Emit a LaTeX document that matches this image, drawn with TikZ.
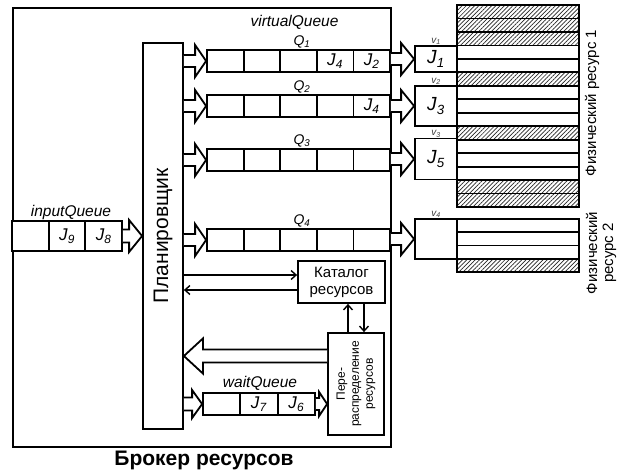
\documentclass[tikz,border=0pt]{standalone}
\usepackage{fontspec}
\setmainfont{Liberation Sans}
\usetikzlibrary{calc,patterns.meta,arrows.meta}
\newcommand\J[1]{\textit{J}\textsubscript{\textit{#1}}}
\newcommand\fatarrow[5]{%
  \draw[fat] let \p1=(#1), \p2=(#2), \n1={sign(\x2-\x1)*#5} in
    (\x1,\y2+#3pt) -- (\x2-\n1*1pt,\y2+#3pt) -- (\x2-\n1*1pt,\y2+#4pt) -- (\x2,\y2)
    -- (\x2-\n1*1pt,\y2-#4pt) -- (\x2-\n1*1pt,\y2-#3pt) -- (\x1,\y2-#3pt);}
\tikzset{
  box/.style={draw, line width=1.8pt, inner sep=0pt, fill=white},
  qcell/.style={box, minimum width=36.6pt, minimum height=22pt, font=\fontsize{17}{17}\selectfont},
  icell/.style={box, minimum width=36.67pt, minimum height=30pt, font=\fontsize{17}{17}\selectfont},
  wcell/.style={box, minimum width=37.33pt, minimum height=22pt, font=\fontsize{17}{17}\selectfont},
  vm/.style={box, minimum width=42pt, font=\fontsize{19}{19}\selectfont},
  prow/.style={draw, line width=1.8pt, inner sep=0pt, minimum width=122pt},
  hatch/.style={pattern={Lines[angle=45,distance=3pt,line width=0.7pt]}, pattern color=black!85},
  fat/.style={line width=1.8pt, fill=white, line join=miter},
  conn/.style={line width=1.4pt, -{Straight Barb[length=5pt,width=9pt,line width=1.4pt]}},
  qlab/.style={font=\fontsize{14}{14}\selectfont},
  ilab/.style={font=\fontsize{15.5}{15.5}\selectfont\itshape},
  vlab/.style={font=\fontsize{10}{10}\selectfont\itshape, text=black!75, inner sep=0.3pt, anchor=south},
  rlab/.style={rotate=90, align=center, font=\fontsize{15}{16}\selectfont},
}
\begin{document}
\begin{tikzpicture}[x=1pt,y=-1pt]
\fill[white] (0,0) rectangle (618,472);
\useasboundingbox (0,0) rectangle (618,472);
% broker frame
\node[draw, line width=1.8pt, inner sep=0pt, minimum width=378pt, minimum height=439pt, anchor=north west] (broker) at (12,7) {};
\node[font=\fontsize{21}{21}\selectfont\bfseries] (brokerlbl) at (204,460) {Брокер ресурсов};
% planner
\node[box, minimum width=40pt, minimum height=386pt] (plan) at (163,236) {};
\node[rotate=90, font=\fontsize{21}{21}\selectfont] (plantxt) at (plan.center) {Планировщик};
% virtual queues
\node[ilab] (vqlbl) at (294.5,22) {virtualQueue};
\foreach \q/\y in {1/61,2/106,3/160,4/240} {
  \node[qlab] (ql\q) at (302,\y-19) {\textit{Q}\textsubscript{\textit{\q}}};
}
\foreach \c/\t in {1/,2/,3/,4/\J{4},5/\J{2}}
  \node[qcell] (q1c\c) at ({207+36.6*(\c-0.5)},61) {\t};
\foreach \c/\t in {1/,2/,3/,4/,5/\J{4}}
  \node[qcell] (q2c\c) at ({207+36.6*(\c-0.5)},106) {\t};
\foreach \c in {1,...,5}
  \node[qcell] (q3c\c) at ({207+36.6*(\c-0.5)},160) {};
\foreach \c in {1,...,5}
  \node[qcell] (q4c\c) at ({207+36.6*(\c-0.5)},240) {};
% physical resource 1
\foreach \r in {4,5,7,8,9,11,12,13}
  \node[prow, minimum height=13.467pt] (pa\r) at (518,{5+13.467*(\r-0.5)}) {};
\foreach \r in {1,2,3,6,10,14,15}
  \node[prow, hatch, minimum height=13.467pt] (pa\r) at (518,{5+13.467*(\r-0.5)}) {};
% physical resource 2
\foreach \r in {1,2,3}
  \node[prow, minimum height=13.25pt] (pb\r) at (518,{219+13.25*(\r-0.5)}) {};
\node[prow, hatch, minimum height=13.25pt] (pb4) at (518,{219+13.25*3.5}) {};
\node[rlab] (pl1) at (592,103) {Физический ресурс 1};
\node[rlab] (pl2) at (601,253) {Физический\\ресурс 2};
% virtual machines
\node[vm, minimum height=26pt] (v1) at (436,59) {\J{1}};
\node[vm, minimum height=40pt] (v2) at (436,106) {\J{3}};
\node[vm, minimum height=41pt] (v3) at (436,159) {\J{5}};
\node[vm, minimum height=40pt] (v4) at (436,239) {};
\node[vlab] (vl1) at (v1.north) {v\textsubscript{1}};
\node[vlab] (vl2) at (v2.north) {v\textsubscript{2}};
\node[vlab] (vl3) at (v3.north) {v\textsubscript{3}};
\node[vlab] (vl4) at (v4.north) {v\textsubscript{4}};
% input queue
\node[ilab] (inlbl) at (71,212) {inputQueue};
\foreach \c/\t in {1/,2/\J{9},3/\J{8}}
  \node[icell] (in\c) at ({12+36.67*(\c-0.5)},236) {\t};
% catalog and redistribution
\node[box, minimum width=87pt, minimum height=42pt, align=center, font=\fontsize{15}{17}\selectfont] (cat) at (341.5,282) {Каталог\\ресурсов};
\node[box, minimum width=56pt, minimum height=102pt] (redis) at (356,384) {};
\node[rotate=90, align=center, font=\fontsize{12}{14}\selectfont] (redtxt) at (redis.center) {Пере-\\распределение\\ресурсов};
% wait queue
\node[ilab] (wlbl) at (260,383) {waitQueue};
\foreach \c/\t in {1/,2/\J{7},3/\J{6}}
  \node[wcell] (w\c) at ({203+37.33*(\c-0.5)},404) {\t};
\coordinate (ret) at (0,356);
% fat arrows
\foreach \q in {1,2,3,4} {\fatarrow{plan.east}{q\q c1.west}{6}{16}{11}}
\fatarrow{q1c5.east}{v1.west}{6}{16}{13}
\fatarrow{q2c5.east}{v2.west}{6}{16}{13}
\fatarrow{q3c5.east}{v3.west}{6}{16}{13}
\fatarrow{q4c5.east}{v4.west}{6}{16}{13}
\fatarrow{in3.east}{plan.west |- in3.east}{6.5}{16}{13}
\fatarrow{plan.east |- w1.west}{w1.west}{6.5}{14}{10}
\fatarrow{w3.east}{redis.west |- w3.east}{6}{12}{8}
\fatarrow{redis.west |- ret}{plan.east |- ret}{6.5}{17.5}{19}
% thin arrows
\draw[conn] ([yshift=7pt]cat.west -| plan.east) -- ([yshift=7pt]cat.west);
\draw[conn] ([yshift=-8pt]cat.west) -- ([yshift=-8pt]cat.west -| plan.east);
\draw[conn] ([xshift=-8pt]redis.north) -- ([xshift=-8pt]redis.north |- cat.south);
\draw[conn] ([xshift=8pt]redis.north |- cat.south) -- ([xshift=8pt]redis.north);
\end{tikzpicture}
\end{document}
